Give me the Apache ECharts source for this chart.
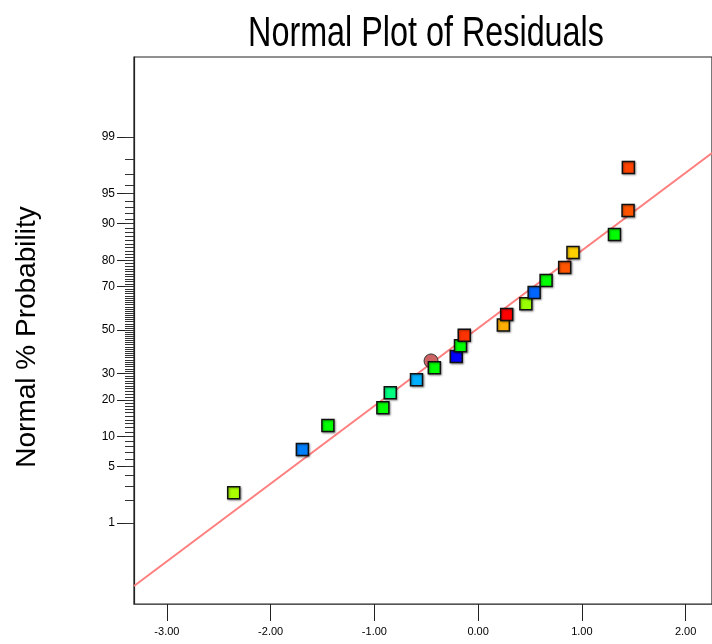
<!DOCTYPE html>
<html>
<head>
<meta charset="utf-8">
<script src="https://cdn.jsdelivr.net/npm/echarts@6/dist/echarts.min.js"></script>
<style>
html,body{margin:0;padding:0;background:#fff;}
#chart{width:712px;height:644px;}
</style>
</head>
<body>
<div id="chart"></div>
<script>
// ---- data ----
const residuals = [-2.356, -1.694, -1.448, -0.918, -0.847, -0.594, -0.422, -0.211, -0.170, -0.134,
                   0.243, 0.275, 0.460, 0.540, 0.655, 0.834, 0.914, 1.314, 1.445, 1.448];
const normalPct = [2.5, 7.5, 12.5, 17.5, 22.5, 27.5, 32.5, 37.5, 42.5, 47.5,
                   52.5, 57.5, 62.5, 67.5, 72.5, 77.5, 82.5, 87.5, 92.5, 97.5];
const pointColors = ['#aaff00', '#0080ff', '#00ff00', '#00ff00', '#00ff80', '#00b0ff', '#00ff00', '#0000ff', '#00ff00', '#ff3300',
                     '#ffb000', '#ff0000', '#99ff00', '#0066ff', '#00ff00', '#ff5500', '#ffd000', '#00ff00', '#ff5500', '#ff4400'];
const circleResidual = [-0.454];
const circlePct = [35.5];
const fitResidual = [-3.317, 2.254];
const fitPct = [0.1025, 98.35];
const xTickValues = [-3, -2, -1, 0, 1, 2];
const xTickLabels = ['-3.00', '-2.00', '-1.00', '0.00', '1.00', '2.00'];
const yTickPct = [1, 5, 10, 20, 30, 50, 70, 80, 90, 95, 99];
const yMinorPct = Array.from({length: 99}, (_, i) => i + 1);

// inverse standard normal CDF (probit), used as the y-scale transform
function probit(p) {
  const a = [-3.969683028665376e+01, 2.209460984245205e+02, -2.759285104469687e+02, 1.383577518672690e+02, -3.066479806614716e+01, 2.506628277459239e+00];
  const b = [-5.447609879822406e+01, 1.615858368580409e+02, -1.556989798598866e+02, 6.680131188771972e+01, -1.328068155288572e+01];
  const c = [-7.784894002430293e-03, -3.223964580411365e-01, -2.400758277161838e+00, -2.549732539343734e+00, 4.374664141464968e+00, 2.938163982698783e+00];
  const d = [7.784695709041462e-03, 3.224671290700398e-01, 2.445134137142996e+00, 3.754408661907416e+00];
  const pl = 0.02425, ph = 1 - pl;
  let q, r;
  if (p < pl) {
    q = Math.sqrt(-2 * Math.log(p));
    return (((((c[0]*q+c[1])*q+c[2])*q+c[3])*q+c[4])*q+c[5]) / ((((d[0]*q+d[1])*q+d[2])*q+d[3])*q+1);
  } else if (p <= ph) {
    q = p - 0.5; r = q * q;
    return (((((a[0]*r+a[1])*r+a[2])*r+a[3])*r+a[4])*r+a[5])*q / (((((b[0]*r+b[1])*r+b[2])*r+b[3])*r+b[4])*r+1);
  } else {
    q = Math.sqrt(-2 * Math.log(1 - p));
    return -(((((c[0]*q+c[1])*q+c[2])*q+c[3])*q+c[4])*q+c[5]) / ((((d[0]*q+d[1])*q+d[2])*q+d[3])*q+1);
  }
}
const zOf = pct => probit(pct / 100);

const chart = echarts.init(document.getElementById('chart'), null, {renderer: 'canvas'});

const squareData = residuals.map((x, i) => ({
  value: [x, zOf(normalPct[i])],
  itemStyle: {color: pointColors[i]}
}));

const Y_MIN = -3.30, Y_MAX = 3.29;
const FONT = "'Liberation Sans', Arial, sans-serif";

chart.setOption({
  animation: false,
  backgroundColor: '#fff',
  grid: {left: 134, top: 57, right: -3, bottom: 40, show: true, borderColor: '#222', borderWidth: 1.2, containLabel: false},
  graphic: [
    {type: 'text', x: 426, y: 34, scaleX: 0.77, scaleY: 1, style: {text: 'Normal Plot of Residuals', fill: '#000',
      font: "normal 42px " + FONT, textAlign: 'center', textVerticalAlign: 'middle'}},
    {type: 'text', x: 27, y: 337, rotation: Math.PI / 2, style: {text: 'Normal % Probability', fill: '#000',
      font: "normal 28px " + FONT, textAlign: 'center', textVerticalAlign: 'middle'}}
  ],
  xAxis: {
    type: 'value', min: -3.317, max: 2.254,
    splitLine: {show: false},
    axisLine: {show: true, onZero: false, lineStyle: {color: '#555', width: 1.2}},
    axisTick: {show: true, customValues: xTickValues, length: 17, lineStyle: {color: '#222', width: 1}},
    axisLabel: {show: true, customValues: xTickValues, margin: 22, color: '#000', fontSize: 11, fontFamily: FONT,
      formatter: v => { const i = xTickValues.findIndex(t => Math.abs(t - v) < 1e-6); return i >= 0 ? xTickLabels[i] : ''; }}
  },
  yAxis: [
    {
      type: 'value', position: 'left', min: Y_MIN, max: Y_MAX,
      splitLine: {show: false},
      axisLine: {show: true, onZero: false, lineStyle: {color: '#222', width: 1.2}},
      axisTick: {show: true, customValues: yTickPct.map(zOf), length: 17, lineStyle: {color: '#222', width: 1}},
      axisLabel: {show: true, customValues: yTickPct.map(zOf), margin: 19, color: '#000', fontSize: 12, fontFamily: FONT,
        formatter: v => { let best = yTickPct[0], bd = 1e9; yTickPct.forEach(p => { const d = Math.abs(zOf(p) - v); if (d < bd) { bd = d; best = p; } }); return String(best); }}
    },
    {
      type: 'value', position: 'left', offset: 0, min: Y_MIN, max: Y_MAX,
      splitLine: {show: false},
      axisLine: {show: false, onZero: false},
      axisTick: {show: true, customValues: yMinorPct.map(zOf), length: 9, lineStyle: {color: '#333', width: 1}},
      axisLabel: {show: false}
    }
  ],
  series: [
    {
      type: 'line', yAxisIndex: 0, silent: true, symbol: 'none', clip: true, z: 1,
      data: fitResidual.map((x, i) => [x, zOf(fitPct[i])]),
      lineStyle: {color: '#ff7f7f', width: 2}
    },
    {
      type: 'scatter', yAxisIndex: 0, symbol: 'circle', symbolSize: 14, z: 2,
      data: circleResidual.map((x, i) => [x, zOf(circlePct[i])]),
      itemStyle: {color: '#cc6262', borderColor: '#333', borderWidth: 1, opacity: 1}
    },
    {
      type: 'scatter', yAxisIndex: 0, symbol: 'rect', symbolSize: 12, z: 3,
      data: squareData,
      itemStyle: {borderColor: '#111', borderWidth: 1.5, opacity: 1,
        shadowColor: 'rgba(0,0,0,0.35)', shadowBlur: 2, shadowOffsetX: 1, shadowOffsetY: 1}
    }
  ]
});
</script>
</body>
</html>
